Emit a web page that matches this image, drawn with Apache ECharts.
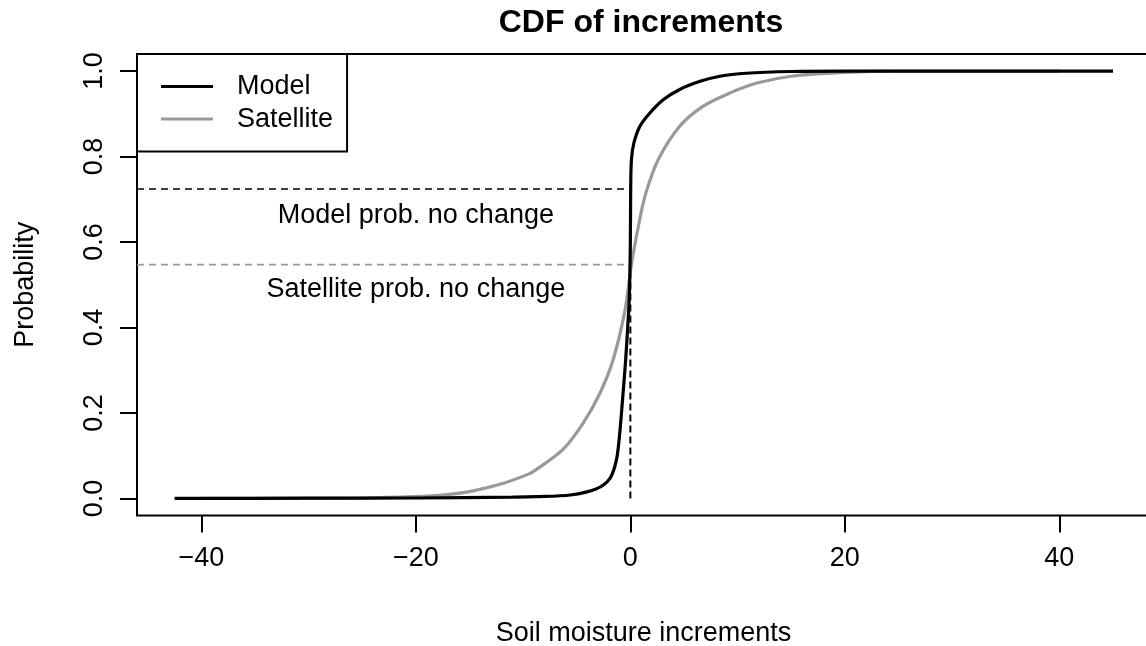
<!DOCTYPE html>
<html>
<head>
<meta charset="utf-8">
<script src="https://cdn.jsdelivr.net/npm/echarts@6/dist/echarts.min.js"></script>
<style>
  html, body { margin: 0; padding: 0; background: #fff; }
  #chart { width: 1146px; height: 646px; }
</style>
</head>
<body>
<div id="chart"></div>
<script>
// Empirical CDF of soil moisture increments, model run
const modelX = [-42.5, -30, -20, -11, -8.75, -5.6, -3.2, -1.9, -1.3, -1.0, -0.7, -0.45, -0.25, -0.1, 0, 0.03, 0.1, 0.33, 0.89, 1.82, 3.06, 4.6, 6.5, 8.35, 10.8, 15, 20, 45];
const modelY = [0, 0.0005, 0.001, 0.003, 0.004, 0.008, 0.022, 0.047, 0.09, 0.15, 0.24, 0.32, 0.40, 0.47, 0.6, 0.724, 0.793, 0.832, 0.871, 0.902, 0.933, 0.957, 0.976, 0.988, 0.995, 0.999, 1.0, 1.0];

// Empirical CDF of soil moisture increments, satellite retrievals
const satX = [-40, -25, -20.3, -17.1, -15, -11.9, -9.4, -8.75, -6.3, -4.4, -2.84, -1.6, -0.5, 0.1, 0.89, 1.45, 2.6, 4.6, 6.8, 9.3, 11.8, 15, 20, 25, 40];
const satY = [0, 0.001, 0.004, 0.009, 0.016, 0.035, 0.058, 0.068, 0.114, 0.176, 0.246, 0.325, 0.44, 0.547, 0.655, 0.715, 0.793, 0.871, 0.918, 0.949, 0.972, 0.988, 0.997, 1.0, 1.0];

// Probability of no change (CDF value at zero increment)
const modelNoChange = 0.724;
const satNoChange = 0.547;

// Tick values
const xTicks = [-40, -20, 0, 20, 40];
const yTicks = [0, 0.2, 0.4, 0.6, 0.8, 1.0];

// Annotation texts and their anchor positions in data units
const annoText = ['Model prob. no change', 'Satellite prob. no change'];
const annoX = [-20, -20];
const annoY = [0.663, 0.488];

const FONT = "'Liberation Sans', Arial, Helvetica, sans-serif";
const xMin = -46, xMax = 48.45;

const zip = (xs, ys) => xs.map((x, i) => [x, ys[i]]);

const chart = echarts.init(document.getElementById('chart'), null, { renderer: 'canvas' });

chart.setOption({
  animation: false,
  backgroundColor: '#fff',
  textStyle: { fontFamily: FONT },
  graphic: [{
    type: 'text',
    x: 641, y: 23,
    style: {
      text: 'CDF of increments',
      font: 'bold 32px ' + FONT,
      fill: '#000',
      align: 'center',
      verticalAlign: 'middle'
    }
  }],
  grid: {
    show: true,
    left: 137, top: 54, width: 1013, height: 461.5,
    containLabel: false,
    outerBoundsMode: 'none',
    borderColor: '#000', borderWidth: 2,
    backgroundColor: 'transparent'
  },
  legend: {
    left: 137, top: 54,
    orient: 'vertical',
    data: ['Model', 'Satellite'],
    backgroundColor: '#fff',
    borderColor: '#000', borderWidth: 2, borderRadius: 0,
    padding: [19, 14, 19, 24],
    itemWidth: 52, itemHeight: 3,
    itemGap: 5.6,
    icon: 'rect',
    textStyle: { fontSize: 27, lineHeight: 27, color: '#000', fontFamily: FONT, padding: [0, 0, 0, 19] },
    selectedMode: false
  },
  xAxis: {
    type: 'value',
    min: xMin, max: xMax,
    name: 'Soil moisture increments',
    nameLocation: 'middle',
    nameGap: 105,
    nameTextStyle: { fontSize: 27, color: '#000', fontFamily: FONT },
    axisLine: { show: false, onZero: false },
    splitLine: { show: false },
    axisTick: { show: true, length: 17, customValues: xTicks, lineStyle: { color: '#000', width: 2 } },
    axisLabel: {
      show: true, customValues: xTicks, fontSize: 27, color: '#000', fontFamily: FONT, margin: 30,
      formatter: v => (v < 0 ? '\u2212' + Math.abs(v) : String(v))
    }
  },
  yAxis: {
    type: 'value',
    min: -0.04, max: 1.04,
    name: 'Probability',
    nameLocation: 'middle',
    nameGap: 98,
    nameRotate: 90,
    nameTextStyle: { fontSize: 27, color: '#000', fontFamily: FONT },
    axisLine: { show: false, onZero: false },
    splitLine: { show: false },
    axisTick: { show: true, length: 17, customValues: yTicks, lineStyle: { color: '#000', width: 2 } },
    axisLabel: {
      show: true, customValues: yTicks, fontSize: 27, color: '#000', fontFamily: FONT, margin: 29,
      rotate: 90, formatter: v => v.toFixed(1)
    }
  },
  series: [
    {
      name: 'Model no change',
      type: 'line',
      data: [[xMin, modelNoChange], [0, modelNoChange]],
      symbol: 'none', silent: true,
      lineStyle: { color: '#000', width: 1.6, type: [7, 5] }
    },
    {
      name: 'Satellite no change',
      type: 'line',
      data: [[xMin, satNoChange], [0, satNoChange]],
      symbol: 'none', silent: true,
      lineStyle: { color: '#999', width: 1.6, type: [7, 5] }
    },
    {
      name: 'Zero increment',
      type: 'line',
      data: [[0, 0], [0, modelNoChange]],
      symbol: 'none', silent: true,
      lineStyle: { color: '#000', width: 2, type: [7, 4] }
    },
    {
      name: 'Satellite',
      type: 'line',
      data: zip(satX, satY),
      symbol: 'none',
      smooth: 0.3,
      itemStyle: { color: '#999' },
      lineStyle: { color: '#999', width: 3.2 }
    },
    {
      name: 'Model',
      type: 'line',
      data: zip(modelX, modelY),
      symbol: 'none',
      smooth: 0.3,
      itemStyle: { color: '#000' },
      lineStyle: { color: '#000', width: 3.2 }
    },
    {
      name: 'Notes',
      type: 'scatter',
      symbolSize: 0,
      itemStyle: { color: 'rgba(0,0,0,0)', opacity: 1 },
      silent: true,
      data: annoText.map((t, i) => ({ name: t, value: [annoX[i], annoY[i]] })),
      label: {
        show: true, position: [0, 0], align: 'center', verticalAlign: 'middle',
        formatter: p => p.name, opacity: 1,
        fontSize: 27, color: '#000', textBorderWidth: 0, fontFamily: FONT
      }
    }
  ]
});
</script>
</body>
</html>
